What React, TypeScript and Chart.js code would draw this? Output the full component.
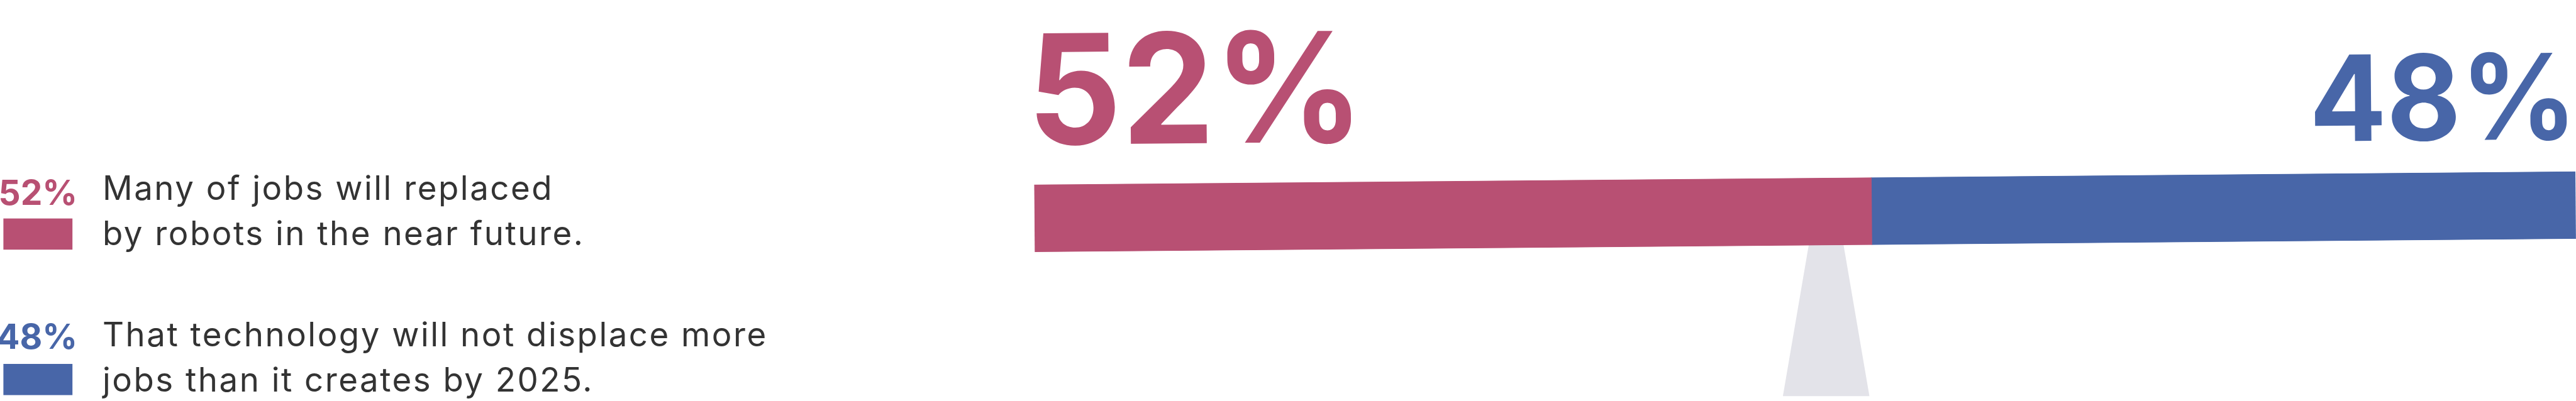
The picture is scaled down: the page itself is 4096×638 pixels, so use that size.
import React, { useEffect, useRef } from "react";
import { Chart, registerables } from "chart.js";

Chart.register(...registerables);

// ---------- data ----------
const categories = ["Jobs and robots"];
const seriesValues = [52, 48];
const seriesTickLabels = ["52%", "48%"];
const seriesNames = [
  "Many of jobs will replaced by robots in the near future.",
  "That technology will not displace more jobs than it creates by 2025.",
];
const seriesLegendLines = [
  ["Many of jobs will replaced", "by robots in the near future."],
  ["That technology will not displace more", "jobs than it creates by 2025."],
];

// ---------- styles / layout ----------
const W = 4096;
const H = 638;
const COLORS = ["#b85073", "#4866a8"];
const TEXT_COLOR = "#333333";
const STAND_COLOR = "#e3e3e9";
const FONT = "Inter, 'Noto Sans', 'DejaVu Sans', sans-serif";
const TILT = -0.00855; // radians, beam tilt
const X_MAX = 95.73; // visible beam span; the right end runs off the picture

function drawFitted(
  ctx: CanvasRenderingContext2D,
  text: string,
  inkLeft: number,
  baseline: number,
  inkWidth: number
) {
  ctx.textAlign = "left";
  const m = ctx.measureText(text);
  const w = m.actualBoundingBoxLeft + m.actualBoundingBoxRight;
  const sx = inkWidth / w;
  ctx.save();
  ctx.translate(inkLeft, baseline);
  ctx.scale(sx, 1);
  ctx.fillText(text, m.actualBoundingBoxLeft, 0);
  ctx.restore();
}

const seesawPlugin = {
  id: "seesaw",
  beforeDatasetsDraw(chart: any) {
    const ctx = chart.ctx as CanvasRenderingContext2D;
    const a = chart.chartArea;
    // fulcrum / stand
    ctx.save();
    ctx.fillStyle = STAND_COLOR;
    ctx.beginPath();
    ctx.moveTo(2877.7, 380);
    ctx.lineTo(2929.7, 380);
    ctx.lineTo(2972.5, 630.3);
    ctx.lineTo(2834.9, 630.3);
    ctx.closePath();
    ctx.fill();
    ctx.restore();
    // tilt the beam
    ctx.save();
    ctx.translate(a.left, a.top);
    ctx.rotate(TILT);
    ctx.translate(-a.left, -a.top);
  },
  afterDatasetsDraw(chart: any) {
    const ctx = chart.ctx as CanvasRenderingContext2D;
    const a = chart.chartArea;
    const bar0 = chart.getDatasetMeta(0).data[0];
    ctx.textBaseline = "alphabetic";
    // big 52%
    ctx.fillStyle = COLORS[0];
    ctx.font = `700 243px ${FONT}`;
    drawFitted(ctx, seriesTickLabels[0], bar0.base + 4.7, a.top - 63.8, 500);
    // big 48%
    ctx.fillStyle = COLORS[1];
    ctx.font = `700 189px ${FONT}`;
    const w1 = 400.5;
    drawFitted(ctx, seriesTickLabels[1], a.right - 13 - w1, a.top - 51.6, w1);
    ctx.restore();
  },
  afterDraw(chart: any) {
    const ctx = chart.ctx as CanvasRenderingContext2D;
    const pctBase = [325.5, 555.4];
    const sqTop = [347.6, 579.0];
    const lineBase = [317.6, 550.6];
    ctx.save();
    ctx.textBaseline = "alphabetic";
    for (let i = 0; i < seriesValues.length; i++) {
      // percentage
      ctx.fillStyle = COLORS[i];
      ctx.font = `700 55px ${FONT}`;
      (ctx as any).letterSpacing = "0px";
      ctx.textAlign = "right";
      const t = seriesTickLabels[i];
      const m = ctx.measureText(t);
      ctx.fillText(t, 118.3 - m.actualBoundingBoxRight, pctBase[i]);
      // swatch
      ctx.fillRect(5.4, sqTop[i], 109.8, 49.6);
      // label lines
      ctx.fillStyle = TEXT_COLOR;
      ctx.font = `400 52.8px ${FONT}`;
      (ctx as any).letterSpacing = "2.5px";
      ctx.textAlign = "left";
      seriesLegendLines[i].forEach((ln, k) => {
        ctx.fillText(ln, 163, lineBase[i] + k * 72.8);
      });
      (ctx as any).letterSpacing = "0px";
    }
    ctx.restore();
  },
};

export default function App() {
  const ref = useRef<HTMLCanvasElement | null>(null);
  useEffect(() => {
    document.body.style.margin = "0";
    if (!ref.current) return;
    const chart = new Chart(ref.current, {
      type: "bar",
      data: {
        labels: categories,
        datasets: seriesValues.map((v, i) => ({
          label: seriesNames[i],
          data: [v],
          backgroundColor: COLORS[i],
          borderWidth: 0,
          barPercentage: 1,
          categoryPercentage: 1,
        })),
      },
      options: {
        indexAxis: "y",
        responsive: false,
        animation: false,
        devicePixelRatio: 1,
        layout: { padding: { left: 1644.4, right: 0.9, top: 293.7, bottom: 237.0 } },
        scales: {
          x: { type: "linear", stacked: true, min: 0, max: X_MAX, display: false },
          y: { type: "category", stacked: true, display: false },
        },
        plugins: { legend: { display: false }, tooltip: { enabled: false } },
      },
      plugins: [seesawPlugin],
    } as any);
    return () => chart.destroy();
  }, []);
  return (
    <div style={{ position: "absolute", left: 0, top: 0, width: W, height: H, background: "#fff" }}>
      <canvas ref={ref} width={W} height={H} style={{ width: W, height: H, display: "block" }} />
    </div>
  );
}
